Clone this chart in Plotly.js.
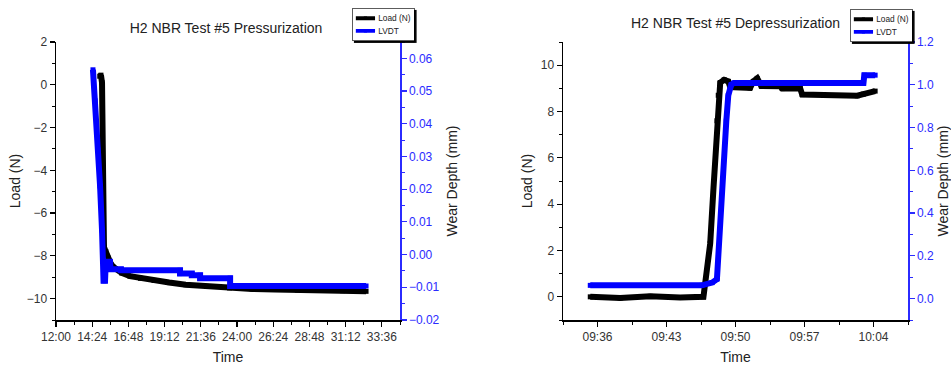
<!DOCTYPE html>
<html><head><meta charset="utf-8">
<script src="https://cdn.plot.ly/plotly-3.0.1.min.js"></script>
<style>html,body{margin:0;padding:0;background:#fff}#chart{width:951px;height:365px}
g.legend rect.bg, g.legend2 rect.bg{filter:drop-shadow(3px 3px 0 #000)}</style>
</head><body><div id="chart"></div>
<script>
// ---- Pressurization (left): time in elapsed hours ----
const pressLoadHours = [14.90, 14.98, 15.05, 15.08, 15.12, 15.18, 15.30, 15.45, 15.65, 15.95, 16.35, 16.9, 17.6, 18.5, 19.5, 20.6, 22.0, 23.5, 25.0, 26.5, 28.0, 29.5, 31.0, 32.55];
const pressLoadN = [0.4, 0.45, 0.1, -3, -6, -7.6, -7.8, -8.1, -8.4, -8.6, -8.8, -8.95, -9.05, -9.15, -9.25, -9.35, -9.43, -9.5, -9.55, -9.57, -9.6, -9.62, -9.63, -9.66];
const pressLvdtHours = [14.45, 14.59, 14.78, 14.92, 15.05, 15.12, 15.15, 15.25, 15.30, 15.58, 15.62, 16.3, 16.3, 20.22, 20.22, 21.0, 21.0, 21.55, 21.55, 23.54, 23.54, 32.55];
const pressLvdtMm = [0.0565, 0.047, 0.032, 0.021, 0.0075, -0.0016, -0.008, -0.008, -0.0022, -0.0022, -0.0045, -0.0045, -0.0048, -0.0048, -0.0058, -0.0058, -0.0063, -0.0063, -0.0072, -0.0072, -0.0096, -0.0096];
const pressTickLabels = ['12:00','14:24','16:48','19:12','21:36','24:00','26:24','28:48','31:12','33:36'];

// ---- Depressurization (right): clock time ----
const depLoadTime = ['09:35:16','09:38:18','09:41:21','09:44:23','09:46:45','09:47:26','09:47:46','09:48:07','09:48:15','09:48:27','09:48:51','09:49:16','09:49:28','09:51:29','09:51:48','09:52:12','09:52:37','09:54:32','09:54:44','09:56:34','09:56:46','10:02:21','10:02:58','10:04:10'];
const depLoadN = [0.0, -0.05, 0.02, -0.03, 0.0, 2.3, 4.7, 7.6, 8.7, 9.25, 9.37, 9.3, 9.05, 9.02, 9.3, 9.43, 9.1, 9.09, 8.99, 8.99, 8.73, 8.68, 8.75, 8.88];
const depLvdtTime = ['09:35:16','09:46:35','09:47:38','09:48:07','09:49:04','09:49:16','09:49:34','09:49:50','10:02:59','10:03:04','10:04:10'];
const depLvdtMm = [0.062, 0.062, 0.075, 0.091, 0.83, 0.95, 1.0, 1.008, 1.008, 1.045, 1.045];
const depTickLabels = ['09:36','09:43','09:50','09:57','10:04'];

const seriesNames = ['Load (N)', 'LVDT'];
const titles = ['H2 NBR Test #5 Pressurization', 'H2 NBR Test #5 Depressurization'];

const DAY = '2000-01-01 ';
const toHours = s => { const [h, m] = s.split(':').map(Number); return h + m / 60; };
const toDate = s => DAY + (s.length === 5 ? s + ':00' : s);

const FONT = 'Liberation Sans, Arial, sans-serif';
const BLUE = '#0000ff';
const BLUE_AX = '#2b2bff';
const LW = 6;

const traces = [
  {x: pressLoadHours, y: pressLoadN, name: seriesNames[0], xaxis: 'x', yaxis: 'y', mode: 'lines+markers',
   line: {color: '#000', width: LW}, marker: {symbol: 'square', size: 5, color: '#000'}, legend: 'legend'},
  {x: pressLvdtHours, y: pressLvdtMm, name: seriesNames[1], xaxis: 'x', yaxis: 'y2', mode: 'lines+markers',
   line: {color: BLUE, width: LW}, marker: {symbol: 'square', size: 5, color: BLUE}, legend: 'legend'},
  {x: depLoadTime.map(toDate), y: depLoadN, name: seriesNames[0], xaxis: 'x2', yaxis: 'y3', mode: 'lines+markers',
   line: {color: '#000', width: LW}, marker: {symbol: 'square', size: 5, color: '#000'}, legend: 'legend2'},
  {x: depLvdtTime.map(toDate), y: depLvdtMm, name: seriesNames[1], xaxis: 'x2', yaxis: 'y4', mode: 'lines+markers',
   line: {color: BLUE, width: LW}, marker: {symbol: 'square', size: 5, color: BLUE}, legend: 'legend2'}
];

const W = 951, H = 365;
const xdomL = [56 / W, 400 / W];
const xdomR = [563 / W, 908 / W];
const ydom = [(H - 320) / H, (H - 42) / H];

const baseAx = {
  showline: true, linecolor: '#000', linewidth: 1.5, ticks: 'outside', ticklen: 5, tickwidth: 1.2,
  tickcolor: '#000', showgrid: false, zeroline: false, tickfont: {family: FONT, size: 12, color: '#333'},
  title: {font: {family: FONT, size: 14, color: '#222'}}
};
const minorOut = (d, t0) => ({ticks: 'outside', ticklen: 3, tickwidth: 1, tickcolor: '#000', tickmode: 'linear', dtick: d, tick0: t0});
const minorIn = (d, t0) => ({ticks: 'inside', ticklen: 3, tickwidth: 1, tickcolor: '#000', tickmode: 'linear', dtick: d, tick0: t0});

const pressTickVals = pressTickLabels.map(toHours);
const depTickVals = depTickLabels.map(toDate);
const depRange = [DAY + '09:32:30', DAY + '10:07:30'];

const legendStyle = {xanchor: 'left', yanchor: 'top', bgcolor: '#fff', bordercolor: '#000', borderwidth: 1,
  font: {family: FONT, size: 13, color: '#222'}, tracegroupgap: 0, itemwidth: 30};
const LEGEND_SCALE = 0.64;

const layout = {
  width: W, height: H, margin: {l: 0, r: 0, t: 0, b: 0},
  paper_bgcolor: '#fff', plot_bgcolor: '#fff',
  font: {family: FONT, color: '#222'},
  title: {text: titles[0], x: 226 / W, xanchor: 'center', y: 1 - 28 / H, yanchor: 'middle',
          font: {family: FONT, size: 14, color: '#222'}},
  annotations: [{text: titles[1], xref: 'paper', yref: 'paper', x: 735 / W, y: 1 - 23 / H,
                 xanchor: 'center', yanchor: 'middle', showarrow: false,
                 font: {family: FONT, size: 14, color: '#222'}}],
  showlegend: true,
  legend: Object.assign({x: 352 / W, y: 1 - 8 / H}, legendStyle),
  legend2: Object.assign({x: 850 / W, y: 1 - 9 / H}, legendStyle),
  xaxis: Object.assign({}, baseAx, {domain: xdomL, anchor: 'y', range: [12, 34.8], tickmode: 'array',
    tickvals: pressTickVals, ticktext: pressTickLabels, minor: minorOut(1.2, 12),
    title: {text: 'Time', standoff: 10, font: baseAx.title.font}}),
  yaxis: Object.assign({}, baseAx, {domain: ydom, anchor: 'x', range: [-11, 2], tickmode: 'linear', dtick: 2, tick0: 0,
    minor: minorOut(1, 0), title: {text: 'Load (N)', standoff: 3, font: baseAx.title.font}}),
  yaxis2: Object.assign({}, baseAx, {overlaying: 'y', anchor: 'x', side: 'right', range: [-0.02, 0.065],
    tickmode: 'linear', dtick: 0.01, tick0: 0, tickformat: '.2f', linecolor: BLUE_AX, tickcolor: BLUE_AX,
    tickfont: {family: FONT, size: 12, color: BLUE_AX}, minor: Object.assign(minorOut(0.005, 0), {tickcolor: BLUE_AX}),
    title: {text: 'Wear Depth (mm)', standoff: 8, font: baseAx.title.font}}),
  xaxis3: Object.assign({}, baseAx, {overlaying: 'x', anchor: 'y', side: 'top', range: [12, 34.8], tickmode: 'array',
    tickvals: pressTickVals, ticktext: pressTickLabels, showticklabels: false, ticks: 'inside', minor: minorIn(1.2, 12),
    title: {text: ''}}),

  xaxis2: Object.assign({}, baseAx, {domain: xdomR, anchor: 'y3', type: 'date', range: depRange, tickmode: 'array',
    tickvals: depTickVals, ticktext: depTickLabels, minor: minorOut(210000, DAY + '09:36'),
    title: {text: 'Time', standoff: 10, font: baseAx.title.font}}),
  yaxis3: Object.assign({}, baseAx, {domain: ydom, anchor: 'x2', range: [-1, 11], tickmode: 'linear', dtick: 2, tick0: 0,
    minor: minorOut(1, 0), title: {text: 'Load (N)', standoff: 5, font: baseAx.title.font}}),
  yaxis4: Object.assign({}, baseAx, {overlaying: 'y3', anchor: 'x2', side: 'right', range: [-0.1, 1.2],
    tickmode: 'linear', dtick: 0.2, tick0: 0, tickformat: '.1f', linecolor: BLUE_AX, tickcolor: BLUE_AX,
    tickfont: {family: FONT, size: 12, color: BLUE_AX}, minor: Object.assign(minorOut(0.1, 0), {tickcolor: BLUE_AX}),
    title: {text: 'Wear Depth (mm)', standoff: 5, font: baseAx.title.font}}),
  xaxis4: Object.assign({}, baseAx, {overlaying: 'x2', anchor: 'y3', side: 'top', type: 'date', range: depRange,
    tickmode: 'array', tickvals: depTickVals, ticktext: depTickLabels, showticklabels: false, ticks: 'inside',
    minor: minorIn(210000, DAY + '09:36'), title: {text: ''}})
};

Plotly.newPlot('chart', traces, layout, {staticPlot: true, displayModeBar: false}).then(gd => {
  // shrink the legend boxes to the compact size used by the original software
  gd.querySelectorAll('g.legend, g.legend2').forEach(g => {
    const t = g.getAttribute('transform') || '';
    if (!/scale/.test(t)) g.setAttribute('transform', t + ' scale(' + LEGEND_SCALE + ')');
  });
});
</script>
</body></html>
